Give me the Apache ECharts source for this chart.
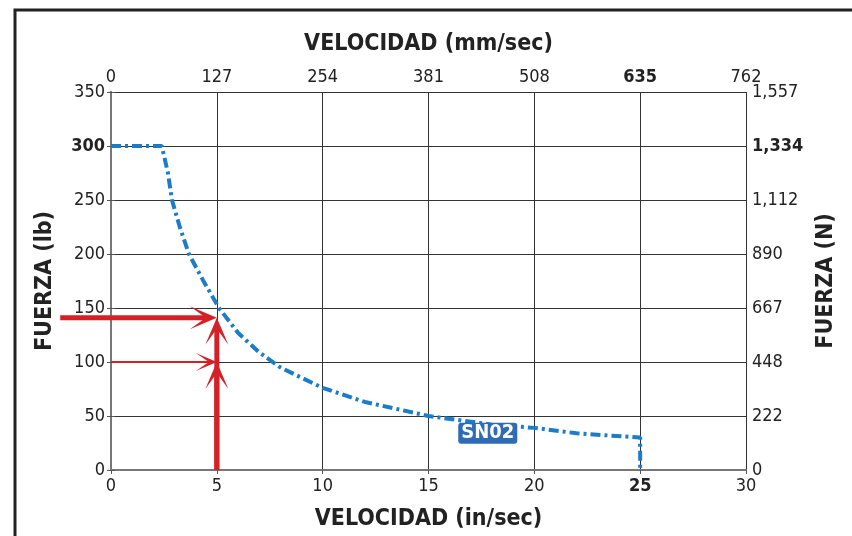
<!DOCTYPE html>
<html><head><meta charset="utf-8">
<script src="https://cdn.jsdelivr.net/npm/echarts@6/dist/echarts.min.js"></script>
<style>html,body{margin:0;padding:0;background:#fff}#c{width:852px;height:536px}</style>
</head><body><div id="c"></div>
<script>
var FONT = '"Liberation Sans Narrow","DejaVu Sans Condensed","Liberation Sans",sans-serif';
// curve SN02: [velocity in/sec, force lb]
var sn02 = [[0,300],[2.4,300],[2.69,275],[2.88,250],[3.25,225],[3.68,200],[4.34,176],[5.1,150],[6,127],[7,109],[8,95],[10,76],[12,63],[15,50],[18,42],[20,39],[22,34],[25,30],[25,0]];
var bottomTicks = ['0','5','10','15','20','25','30'];
var topTicks = ['0','127','254','381','508','635','762'];
var leftTicks = ['0','50','100','150','200','250','300','350'];
var rightTicks = ['0','222','448','667','890','1,112','1,334','1,557'];
var boldBottom = '25', boldTop = '635', boldLeft = '300', boldRight = '1,334';
// arrows: [x1, y1, x2, y2, thick(1) / thin(0)]
var arrows = [
  [-2.4, 141, 5, 141, 1],
  [0, 100, 5, 100, 0],
  [5, 0, 5, 141, 1],
  [5, 0, 5, 100, 1]
];
var labelPos = [17.8, 34];

function fmt(list, bold){ return function(v, i){ var s = list[i]; return s === bold ? '{b|' + s + '}' : s; }; }
var lblBase = {fontFamily: FONT, fontSize: 18, color: '#222'};
var rich = {b: {fontFamily: FONT, fontSize: 18, color: '#222', fontWeight: 'bold'}};
var nameStyle = {fontFamily: FONT, fontSize: 23, fontWeight: 'bold', color: '#222'};
var axisLine = {show: true, lineStyle: {color: '#777', width: 2}};
var split = {show: true, lineStyle: {color: '#333', width: 1}};

function renderArrow(params, api) {
  var p1 = api.coord([api.value(0), api.value(1)]);
  var p2 = api.coord([api.value(2), api.value(3)]);
  var thick = api.value(4) === 1;
  var L = thick ? 27 : 21, W = thick ? 23 : 18, N = thick ? 11 : 8, lw = thick ? 5 : 2;
  var dx = p2[0] - p1[0], dy = p2[1] - p1[1];
  var len = Math.sqrt(dx * dx + dy * dy) || 1;
  var ux = dx / len, uy = dy / len, nx = -uy, ny = ux;
  var bx = p2[0] - L * ux, by = p2[1] - L * uy;
  var color = '#d42128';
  return {type: 'group', children: [
    {type: 'line', shape: {x1: p1[0], y1: p1[1], x2: p2[0] - N * ux, y2: p2[1] - N * uy},
     style: {stroke: color, lineWidth: lw}},
    {type: 'polygon', shape: {points: [
      [p2[0], p2[1]],
      [bx + nx * W / 2, by + ny * W / 2],
      [p2[0] - N * ux, p2[1] - N * uy],
      [bx - nx * W / 2, by - ny * W / 2]
    ]}, style: {fill: color}}
  ]};
}

var chart = echarts.init(document.getElementById('c'));
chart.setOption({
  animation: false,
  graphic: [{type: 'rect', shape: {x: 15, y: 10, width: 900, height: 600}, style: {fill: 'none', stroke: '#222', lineWidth: 3}, z: -1}],
  grid: {left: 111, right: 106, top: 92, bottom: 66},
  xAxis: [
    {type: 'value', position: 'bottom', min: 0, max: 30, interval: 5,
     name: 'VELOCIDAD (in/sec)', nameLocation: 'middle', nameGap: 38, nameTextStyle: nameStyle,
     axisLine: axisLine, axisTick: {show: true, length: 4, lineStyle: {color: '#555'}},
     axisLabel: Object.assign({margin: 7, formatter: fmt(bottomTicks, boldBottom), rich: rich}, lblBase),
     splitLine: split},
    {type: 'value', position: 'top', min: 0, max: 762, interval: 127,
     name: 'VELOCIDAD (mm/sec)', nameLocation: 'middle', nameGap: 36, nameTextStyle: nameStyle,
     axisLine: axisLine, axisTick: {show: false},
     axisLabel: Object.assign({margin: 6, formatter: fmt(topTicks, boldTop), rich: rich}, lblBase),
     splitLine: {show: false}}
  ],
  yAxis: [
    {type: 'value', position: 'left', min: 0, max: 350, interval: 50,
     name: 'FUERZA (lb)', nameLocation: 'middle', nameGap: 54, nameTextStyle: nameStyle,
     axisLine: axisLine, axisTick: {show: true, length: 4, lineStyle: {color: '#555'}},
     axisLabel: Object.assign({margin: 6, formatter: fmt(leftTicks, boldLeft), rich: rich}, lblBase),
     splitLine: split},
    {type: 'value', position: 'right', min: 0, max: 350, interval: 50,
     name: 'FUERZA (N)', nameLocation: 'middle', nameGap: 52, nameRotate: 90, nameTextStyle: nameStyle,
     axisLine: axisLine, axisTick: {show: true, length: 4, lineStyle: {color: '#555'}},
     axisLabel: Object.assign({margin: 6, formatter: fmt(rightTicks, boldRight), rich: rich}, lblBase),
     splitLine: {show: false}}
  ],
  series: [
    {type: 'line', name: 'SN02', data: sn02, xAxisIndex: 0, yAxisIndex: 0, showSymbol: false, symbol: 'none',
     lineStyle: {color: '#1b7cc8', width: 4, type: [10, 4, 3, 4]}, z: 3,
     markPoint: {symbol: 'rect', symbolSize: 1, itemStyle: {color: 'transparent'},
       data: [{coord: labelPos, value: 'SN02'}],
       label: {show: true, position: 'inside', formatter: 'SN02', fontFamily: FONT, fontSize: 20, fontWeight: 'bold',
         color: '#fff', backgroundColor: '#2f6cb5', padding: [1, 3, 0, 3], borderRadius: 3}}},
    {type: 'custom', coordinateSystem: 'cartesian2d', xAxisIndex: 0, yAxisIndex: 0, clip: false, z: 4,
     data: arrows, encode: {x: [0, 2], y: [1, 3]}, renderItem: renderArrow}
  ]
});
</script></body></html>
